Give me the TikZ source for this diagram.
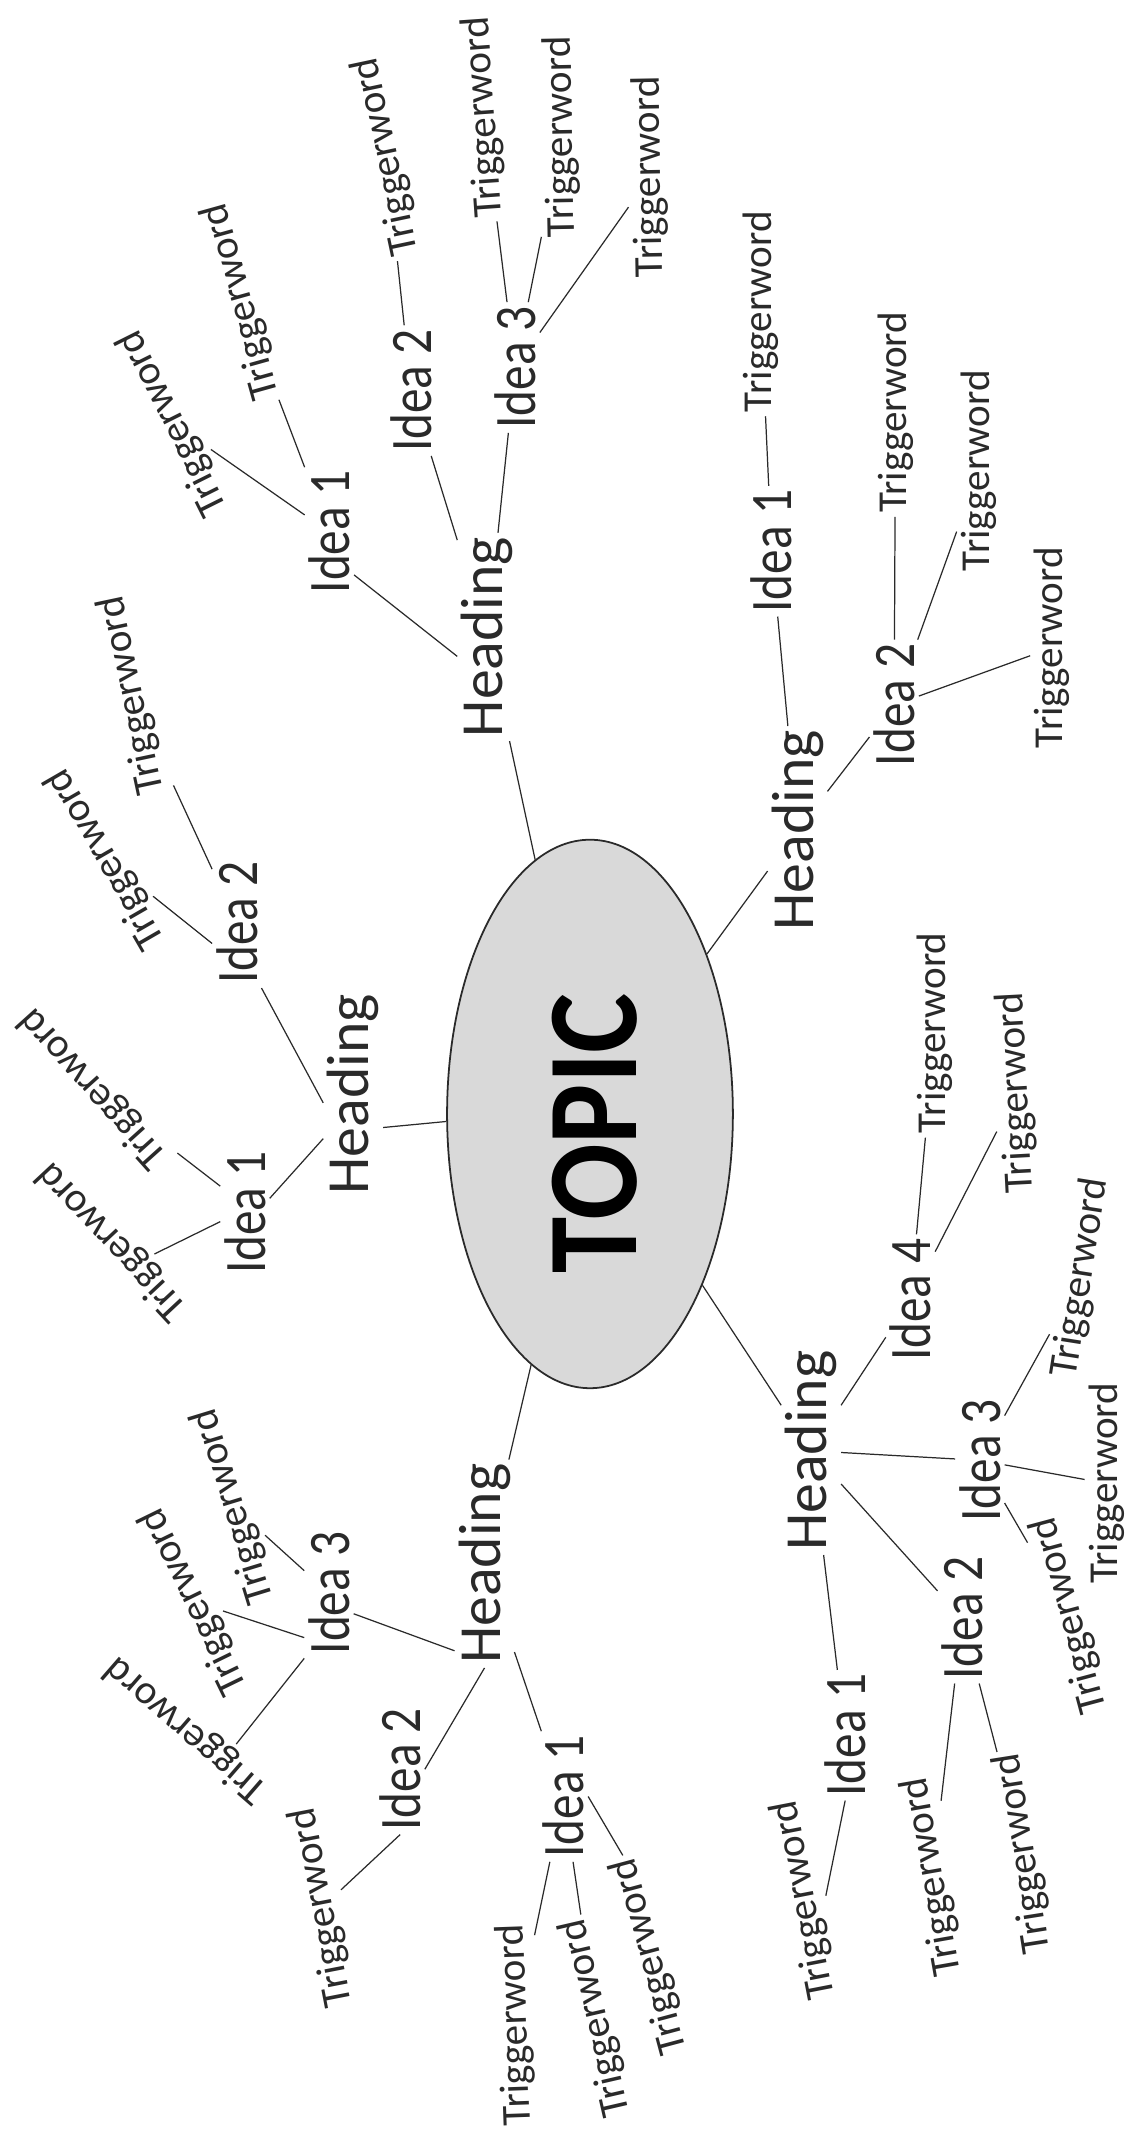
\documentclass[tikz,border=0pt]{standalone}
\usepackage{graphicx}
\usepackage{fontspec}
\setmainfont{Carlito}
\usetikzlibrary{shapes.geometric}
\definecolor{ink}{HTML}{2A2A2A}
\definecolor{topicfill}{HTML}{D9D9D9}
\newcommand{\trigtext}{{\fontsize{30.2pt}{32pt}\selectfont Triggerword}}
\newcommand{\ideatext}[1]{\resizebox{90pt}{30pt}{Idea #1}}
\newcommand{\headtext}{{\fontsize{43.9pt}{46pt}\selectfont Heading}}
\tikzset{
  lbl/.style={inner sep=2pt, outer sep=1pt, text=ink, anchor=center},
  vert/.style={lbl, rotate=90},
  conn/.style={draw=ink, line width=0.9pt},
  topicshape/.style={ellipse, draw=ink, line width=1.3pt, fill=topicfill, minimum width=210pt, minimum height=403pt, inner sep=0pt}
}
\begin{document}
\begin{tikzpicture}[x=1pt, y=-1pt]
\fill[white] (0,0) rectangle (839,1568);
\useasboundingbox (0,0) rectangle (839,1568);
% centre
\node[topicshape] (topic) at (433.5,818.5) {};
\node[vert, text=black] (topiclbl) at (437,833) {\resizebox{206pt}{62pt}{\bfseries TOPIC}};
% headings
\node[vert] (h1) at (358,468) {\headtext};
\node[vert] (h2) at (586,610) {\headtext};
\node[vert] (h3) at (596,1066) {\headtext};
\node[vert] (h4) at (356,1149) {\headtext};
\node[vert] (h5) at (259.5,804) {\headtext};
% ideas
\node[vert] (i11) at (242,391) {\ideatext{1}};
\node[vert] (i12) at (302,287) {\ideatext{2}};
\node[vert] (i13) at (378.5,270) {\ideatext{3}};
\node[vert] (i21) at (567,405) {\ideatext{1}};
\node[vert] (i22) at (657,518) {\ideatext{2}};
\node[vert] (i34) at (669,955) {\ideatext{4}};
\node[vert] (i33) at (720,1073) {\ideatext{3}};
\node[vert] (i32) at (707,1189) {\ideatext{2}};
\node[vert] (i31) at (621,1275) {\ideatext{1}};
\node[vert] (i43) at (241.7,1170.5) {\ideatext{3}};
\node[vert] (i42) at (294,1300) {\ideatext{2}};
\node[vert] (i41) at (414,1320) {\ideatext{1}};
\node[vert] (i52) at (174,678) {\ideatext{2}};
\node[vert] (i51) at (180,891) {\ideatext{1}};
% trigger words
\node[lbl, rotate=105.6] (t1a) at (177.5,221.6) {\trigtext};
\node[lbl, rotate=116.5] (t1b) at (127.4,311) {\trigtext};
\node[lbl, rotate=102] (t2a) at (284,115) {\trigtext};
\node[lbl, rotate=94] (t3a) at (355.7,86.3) {\trigtext};
\node[lbl, rotate=91] (t3b) at (412.6,100.5) {\trigtext};
\node[lbl, rotate=91] (t3c) at (477.5,130) {\trigtext};
\node[lbl, rotate=90] (t21) at (559,229) {\trigtext};
\node[lbl, rotate=90] (t22a) at (658,303) {\trigtext};
\node[lbl, rotate=90] (t22b) at (719,346) {\trigtext};
\node[lbl, rotate=90] (t22c) at (773,476) {\trigtext};
\node[lbl, rotate=90] (t34a) at (687,759) {\trigtext};
\node[lbl, rotate=93] (t34b) at (747,803) {\trigtext};
\node[lbl, rotate=81] (t33a) at (794,939) {\trigtext};
\node[lbl, rotate=90] (t33b) at (813,1090) {\trigtext};
\node[lbl, rotate=105] (t33c) at (786,1187) {\trigtext};
\node[lbl, rotate=100] (t32a) at (685,1379) {\trigtext};
\node[lbl, rotate=99] (t32b) at (752,1362) {\trigtext};
\node[lbl, rotate=101] (t31) at (591,1396) {\trigtext};
\node[lbl, rotate=107] (t43a) at (171.5,1107) {\trigtext};
\node[lbl, rotate=116] (t43b) at (142.6,1176.7) {\trigtext};
\node[lbl, rotate=139] (t43c) at (137,1271) {\trigtext};
\node[lbl, rotate=101] (t42) at (236.7,1401.5) {\trigtext};
\node[lbl, rotate=92] (t41a) at (379,1488) {\trigtext};
\node[lbl, rotate=103] (t41b) at (438,1483) {\trigtext};
\node[lbl, rotate=105] (t41c) at (477.5,1437.5) {\trigtext};
\node[lbl, rotate=102] (t52a) at (97,511) {\trigtext};
\node[lbl, rotate=120] (t52b) at (78,631) {\trigtext};
\node[lbl, rotate=132] (t51a) at (68.5,799.5) {\trigtext};
\node[lbl, rotate=133] (t51b) at (82.7,912) {\trigtext};
% connectors (centre to centre, clipped at the node borders)
\foreach \a/\b in {topic/h1, topic/h2, topic/h3, topic/h4,
  h1/i12, h1/i13, i11/t1a, i11/t1b, i12/t2a, i13/t3a, i13/t3b, i13/t3c,
  h2/i21, h2/i22, i21/t21, i22/t22a, i22/t22b, i22/t22c,
  h3/i34, h3/i33, h3/i32, h3/i31, i34/t34a, i34/t34b, i33/t33a, i33/t33b, i33/t33c,
  i32/t32a, i32/t32b,
  h4/i41, i43/t43a, i41/t41a, i41/t41b,
  i52/t52a}
  \draw[conn] (\a) -- (\b);
% connectors that leave or reach a node off its centre line
\draw[conn] (topic.183) -- (h5.-138);
\draw[conn] (h1.123) -- (i11.-150);
\draw[conn] (h4.161) -- (i43.-130);
\draw[conn] (h4.west) -- (i42.south);
\draw[conn] (h5.106) -- (i52.south west);
\draw[conn] (h5.146) -- (i51.-60);
\draw[conn] (i41.south) -- (t41c.east);
\draw[conn] (i43.151) -- (t43b);
\draw[conn] (i43.north west) -- (t43c.-155);
\draw[conn] (i31.west) -- (t31.south);
\draw[conn] (i42.west) -- (t42);
\draw[conn] (i52.130) -- (t52b);
\draw[conn] (i51.43) -- (t51a);
\draw[conn] (i51.110) -- (t51b.-150);
\end{tikzpicture}
\end{document}
